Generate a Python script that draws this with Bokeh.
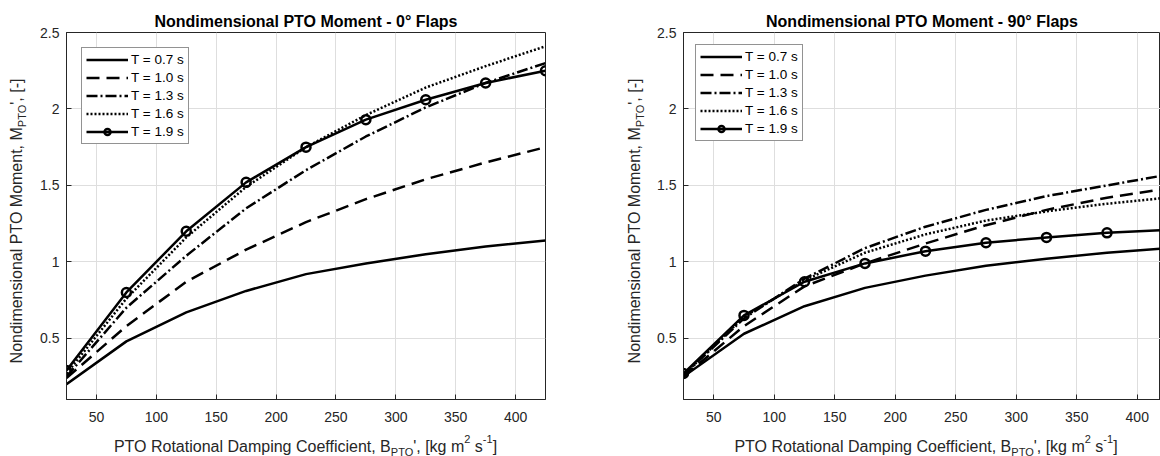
from bokeh.plotting import figure
from bokeh.models import Legend, LegendItem, Range1d, Div
from bokeh.layouts import row, column
from bokeh.embed import file_html
from bokeh.resources import INLINE

# ---------------- data ----------------
damping = [25, 75, 125, 175, 225, 275, 325, 375, 425]
period_labels = ["T = 0.7 s", "T = 1.0 s", "T = 1.3 s", "T = 1.6 s", "T = 1.9 s"]
x_ticks = [50, 100, 150, 200, 250, 300, 350, 400]
y_ticks = [0.5, 1, 1.5, 2, 2.5]
y_tick_labels = ["0.5", "1", "1.5", "2", "2.5"]

flap0_t07 = [0.20, 0.48, 0.67, 0.81, 0.92, 0.99, 1.05, 1.10, 1.14]
flap0_t10 = [0.24, 0.58, 0.87, 1.08, 1.26, 1.41, 1.54, 1.65, 1.75]
flap0_t13 = [0.25, 0.70, 1.04, 1.35, 1.60, 1.82, 2.01, 2.17, 2.30]
flap0_t16 = [0.27, 0.76, 1.16, 1.49, 1.75, 1.96, 2.14, 2.28, 2.41]
flap0_t19 = [0.29, 0.80, 1.20, 1.52, 1.75, 1.93, 2.06, 2.17, 2.25]

flap90_t07 = [0.25, 0.53, 0.71, 0.83, 0.91, 0.975, 1.02, 1.06, 1.09]
flap90_t10 = [0.25, 0.58, 0.84, 0.99, 1.12, 1.24, 1.34, 1.42, 1.48]
flap90_t13 = [0.26, 0.63, 0.89, 1.09, 1.23, 1.34, 1.43, 1.50, 1.57]
flap90_t16 = [0.26, 0.64, 0.88, 1.06, 1.18, 1.27, 1.33, 1.38, 1.42]
flap90_t19 = [0.27, 0.65, 0.87, 0.99, 1.07, 1.125, 1.16, 1.19, 1.21]

titles = ["Nondimensional PTO Moment - 0\u00b0 Flaps",
          "Nondimensional PTO Moment - 90\u00b0 Flaps"]
SUB = '<span style="font-size:11px;line-height:0;vertical-align:-4px">{}</span>'
SUP = '<span style="font-size:11px;line-height:0;vertical-align:9px">{}</span>'
xlabel_html = ("PTO Rotational Damping Coefficient, B" + SUB.format("PTO")
               + "', [kg m" + SUP.format("2") + " s" + SUP.format("-1") + "]")
ylabel_html = "Nondimensional PTO Moment, M" + SUB.format("PTO") + "', [-]"

# ---------------- style ----------------
FONT = "Liberation Sans"
AX = "#262626"
FIG_H = 435
MBT, MBB, MBL = 32, 36, 36
DIV_PAD = 5          # horizontal margin Bokeh puts on each side of a Div
YDIV_W = 30
LW = 2.5
dashes = ["solid", "13 7", "11 3 2 3", "2 2", "solid"]
TEXT_CSS = ("position:absolute;white-space:nowrap;font-family:'Liberation Sans';"
            "font-size:16px;line-height:16px;color:#262626;text-align:center;")


def make_fig(title, series, width, x_end, mb_right, legend_margin):
    p = figure(width=width, height=FIG_H, x_range=Range1d(25, x_end),
               y_range=Range1d(0.1, 2.5), output_backend="svg", toolbar_location=None,
               min_border_left=MBL, min_border_right=mb_right,
               min_border_top=MBT, min_border_bottom=MBB,
               outline_line_color=AX, outline_line_width=1,
               background_fill_color="white", border_fill_color="white")
    p.title.text = title
    p.title.align = "center"
    p.title.text_font = FONT
    p.title.text_font_style = "bold"
    p.title.text_font_size = "16px"
    p.title.text_color = "black"
    p.title.standoff = 5

    p.xaxis.ticker = x_ticks
    p.yaxis.ticker = y_ticks
    p.yaxis.major_label_overrides = {t: l for t, l in zip(y_ticks, y_tick_labels)}
    for ax in p.axis:
        ax.axis_line_color = AX
        ax.axis_line_width = 1
        ax.major_tick_line_color = AX
        ax.major_tick_in = 5
        ax.major_tick_out = 0
        ax.minor_tick_line_color = None
        ax.major_label_text_font = FONT
        ax.major_label_text_font_size = "14px"
        ax.major_label_text_color = AX
    p.xaxis.major_label_standoff = 12
    p.yaxis.major_label_standoff = 7

    p.grid.grid_line_color = "#dedede"
    p.grid.grid_line_width = 1

    items = []
    for i, (lab, ys) in enumerate(zip(period_labels, series)):
        r = p.line(damping, ys, line_color="black", line_width=LW, line_dash=dashes[i])
        rs = [r]
        if i == 4:
            m = p.scatter(damping, ys, marker="circle", size=9, fill_color=None,
                          line_color="black", line_width=LW)
            rs.append(m)
        items.append(LegendItem(label=lab, renderers=rs))

    leg = Legend(items=items, location="top_left", margin=legend_margin,
                 glyph_width=42, glyph_height=15, label_height=15, spacing=3,
                 padding=4, label_standoff=3, label_text_font=FONT,
                 label_text_font_size="13.5px", label_text_color="black",
                 border_line_color=AX, border_line_width=1,
                 background_fill_color="white", background_fill_alpha=1.0)
    p.add_layout(leg)
    return p


def xlabel_div(width, center):
    box_w = 460
    left = MBL + center - box_w / 2 - DIV_PAD
    html = (f'<div style="{TEXT_CSS}left:{left}px;top:-1px;width:{box_w}px;">'
            f'{xlabel_html}</div>')
    return Div(text=html, width=width - 2 * DIV_PAD, height=456 - FIG_H,
               styles={"position": "relative", "overflow": "visible"})


def ylabel_div(baseline_x):
    box_w = 330
    cx = baseline_x - 5.5 - DIV_PAD
    cy = MBT + (399 - MBT) / 2
    html = (f'<div style="{TEXT_CSS}left:{cx - box_w / 2}px;top:{cy - 8}px;'
            f'width:{box_w}px;height:16px;transform:rotate(-90deg);'
            f'transform-origin:50% 50%;">{ylabel_html}</div>')
    return Div(text=html, width=YDIV_W - 2 * DIV_PAD, height=456,
               styles={"position": "relative", "overflow": "visible"})


W1, W2 = 587, 513
p1 = make_fig(titles[0], [flap0_t07, flap0_t10, flap0_t13, flap0_t16, flap0_t19],
              width=W1, x_end=425, mb_right=W1 - MBL - 479, legend_margin=15)
p2 = make_fig(titles[1], [flap90_t07, flap90_t10, flap90_t13, flap90_t16, flap90_t19],
              width=W2, x_end=25 + (W2 - MBL) / 1.21, mb_right=0, legend_margin=12)

panel1 = row(ylabel_div(22), column(p1, xlabel_div(W1, 239.5), spacing=0), spacing=0)
panel2 = row(ylabel_div(23), column(p2, xlabel_div(W2, 243), spacing=0), spacing=0)
layout = row(panel1, panel2, spacing=0)
open("out.html", "w").write(file_html(layout, INLINE))
